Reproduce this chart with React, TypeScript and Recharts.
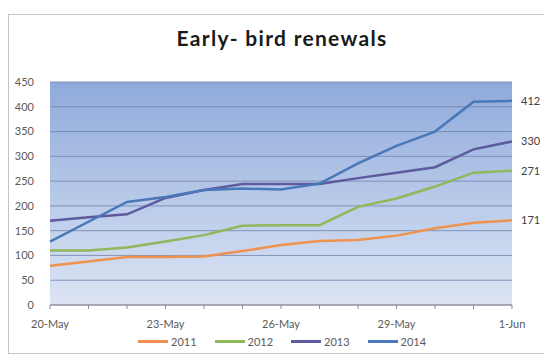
import { LineChart, Line, XAxis, YAxis, CartesianGrid, LabelList } from 'recharts';

const days = ['20-May', '21-May', '22-May', '23-May', '24-May', '25-May', '26-May', '27-May', '28-May', '29-May', '30-May', '31-May', '1-Jun'];
const shownDays = ['20-May', '23-May', '26-May', '29-May', '1-Jun'];

const renewals2011 = [79, 88, 97, 97, 98, 109, 121, 129, 131, 140, 155, 166, 171];
const renewals2012 = [110, 110, 116, 128, 141, 160, 161, 161, 198, 215, 239, 267, 271];
const renewals2013 = [170, 177, 183, 216, 232, 244, 244, 244, 256, 267, 278, 314, 330];
const renewals2014 = [128, 168, 208, 218, 232, 235, 233, 245, 286, 321, 350, 410, 412];

const yTicks = [0, 50, 100, 150, 200, 250, 300, 350, 400, 450];

const series = [
    { key: 'y2011', name: '2011', color: '#f0924e', values: renewals2011 },
    { key: 'y2012', name: '2012', color: '#8fb85a', values: renewals2012 },
    { key: 'y2013', name: '2013', color: '#5d5a9e', values: renewals2013 },
    { key: 'y2014', name: '2014', color: '#4878b8', values: renewals2014 },
];

const data = days.map((day, i) => {
    const row: Record<string, string | number> = { day };
    series.forEach(s => { row[s.key] = s.values[i]; });
    return row;
});

const FONT = 'Lato, "Open Sans", sans-serif';
const tickStyle = { fontSize: 11, fill: '#5a5a5a', fontFamily: FONT };

// value printed to the right of the last point only
const EndLabel = (props: any) => {
    const { x, y, value, index } = props;
    if (index !== days.length - 1) return null;
    return (
        <text x={x + 9} y={y} dy="0.35em" fontSize={11} fill="#404040" fontFamily={FONT}>
            {value}
        </text>
    );
};

const App = () => {
    return (
        <div style={{
            position: 'relative',
            marginTop: 6,
            width: 542,
            height: 338,
            borderLeft: '1px solid #c4c4c4',
            borderTop: '1px solid #c4c4c4',
            borderBottom: '1px solid #c4c4c4',
            background: '#fff',
            fontFamily: FONT,
        }}>
            <div style={{
                position: 'absolute', top: 10, left: 0, width: 546,
                textAlign: 'center', fontSize: 21, fontWeight: 700, letterSpacing: 1.3,
                color: '#1a1a1a',
            }}>
                Early- bird renewals
            </div>

            <LineChart width={540} height={338} data={data}
                       margin={{ top: 67, right: 37, bottom: 18, left: 6 }}>
                <defs>
                    <linearGradient id="plotBg" x1="0" y1="0" x2="0" y2="1">
                        <stop offset="0%" stopColor="#8ea9db" />
                        <stop offset="50%" stopColor="#b6c8e8" />
                        <stop offset="100%" stopColor="#dde5f4" />
                    </linearGradient>
                </defs>
                <CartesianGrid vertical={false} fill="url(#plotBg)" stroke="#7284ab" strokeOpacity={0.8} />
                <XAxis dataKey="day" interval={0} height={30}
                       tickFormatter={(v: string) => (shownDays.includes(v) ? v : '')}
                       tick={tickStyle} stroke="#8c8c8c" tickSize={4} tickMargin={11} />
                <YAxis domain={[0, 450]} ticks={yTicks} width={35} axisLine={false}
                       tickLine={false} tickSize={0} tickMargin={16} tick={tickStyle} />
                {series.map(s => (
                    <Line key={s.key} type="linear" dataKey={s.key} name={s.name}
                          stroke={s.color} strokeWidth={2.5} dot={false}
                          isAnimationActive={false}>
                        <LabelList dataKey={s.key} content={<EndLabel />} />
                    </Line>
                ))}
            </LineChart>

            <div style={{
                position: 'absolute', top: 320, left: 129,
                display: 'flex', alignItems: 'center', fontSize: 11, color: '#595959',
            }}>
                {series.map(s => (
                    <div key={s.key} style={{ display: 'flex', alignItems: 'center', marginRight: 18 }}>
                        <span style={{ display: 'inline-block', width: 30, height: 3, background: s.color, marginRight: 3 }} />
                        <span>{s.name}</span>
                    </div>
                ))}
            </div>
        </div>
    );
};

export default App;
